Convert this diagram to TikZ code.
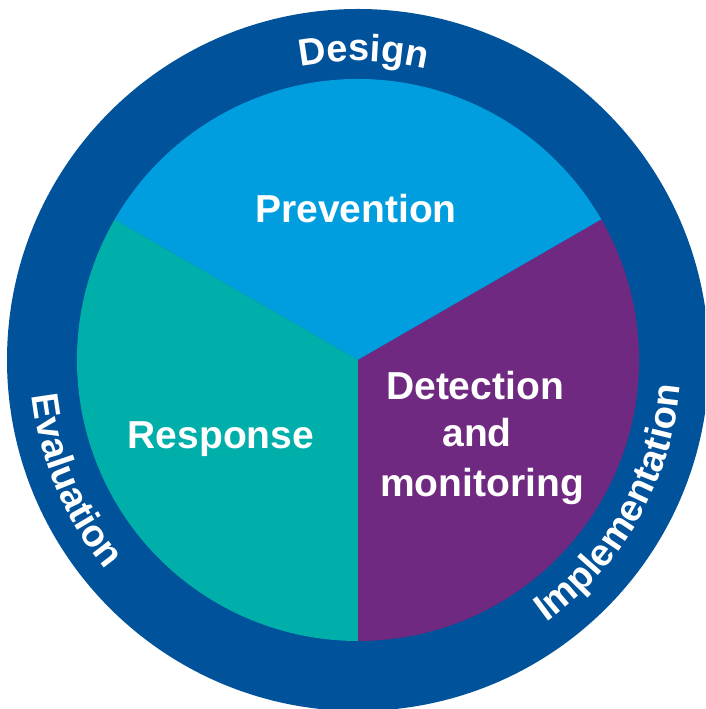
\documentclass[tikz,border=0pt]{standalone}
\usepackage{fontspec}
\setmainfont{Liberation Sans}
\usetikzlibrary{calc,decorations.text}

\definecolor{ringblue}{HTML}{00529B}
\definecolor{prevblue}{HTML}{009EDF}
\definecolor{respteal}{HTML}{00AFA9}
\definecolor{detpurple}{HTML}{6F2980}

\newcommand\ringfont{\fontsize{38}{38}\selectfont\bfseries}
\newcommand\sectorfont{\fontsize{39}{39}\selectfont\bfseries}

\begin{document}
\begin{tikzpicture}[x=1pt,y=1pt,
  sector/.style={text=white,font=\sectorfont,inner sep=0pt,anchor=base},
  ringtext/.style={decorate,decoration={text along path,text align=center,
    text color=white,text={|\ringfont|#1}}}]
\useasboundingbox (0,0) rectangle (705,709);
\clip (0,0) rectangle (705,709);
\coordinate (c) at (358,349);

% outer ring
\fill[ringblue] (c) circle[radius=351];

% the three sectors of the inner disc
\fill[prevblue]  (c) -- ($(c)+(30:281)$)  arc[start angle=30,end angle=150,radius=281] -- cycle;
\fill[respteal]  (c) -- ($(c)+(150:281)$) arc[start angle=150,end angle=270,radius=281] -- cycle;
\fill[detpurple] (c) -- ($(c)+(270:281)$) arc[start angle=270,end angle=390,radius=281] -- cycle;

% sector labels
\node[sector] (prev) at (356,486) {Prevention};
\node[sector] (resp) at (221,260) {Response};
\node[sector] (det1) at (475,309) {Detection};
\node[sector] (det2) at (477,262) {and};
\node[sector] (det3) at (482,212) {monitoring};

% labels running round the ring
\path[ringtext=Design] ($(c)+(130:299)$) arc[start angle=130,end angle=48,radius=299];
\path[ringtext=Evaluation] ($(c)+(175:328)$) arc[start angle=175,end angle=231,radius=328];
\path[ringtext=Implementation] ($(c)+(-63:323)$) arc[start angle=-63,end angle=4,radius=323];
\end{tikzpicture}
\end{document}
